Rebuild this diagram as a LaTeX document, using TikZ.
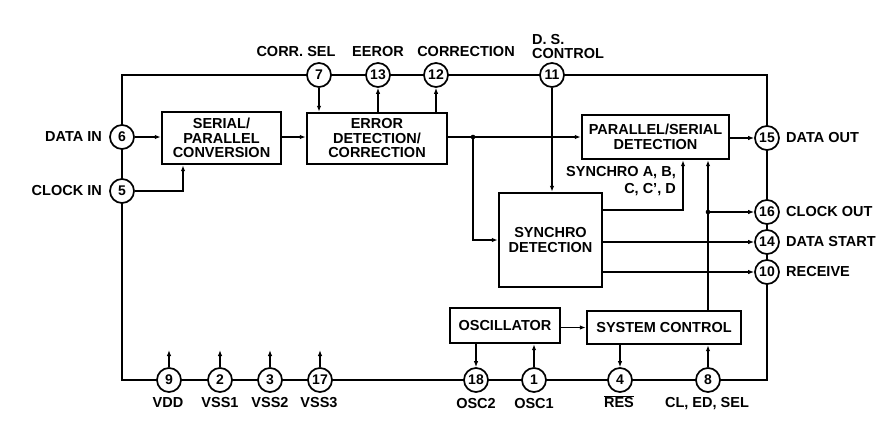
\documentclass[tikz,border=0pt]{standalone}
\usepackage{fontspec}
\setmainfont{Liberation Sans}
\usetikzlibrary{arrows.meta,calc}
\begin{document}
\begin{tikzpicture}[x=1pt,y=-1pt,
  every node/.style={font=\fontsize{14.5}{14.5}\selectfont\bfseries},
  frame/.style={line width=2.8pt,line join=miter},
  blk/.style={draw,line width=2.4pt,align=center,inner sep=0pt},
  pin/.style={draw,circle,fill=white,line width=1.7pt,minimum size=24pt,inner sep=0pt,font=\fontsize{14}{14}\selectfont\bfseries},
  arr/.style={line width=1.3pt,-{Latex[length=6pt,width=4.5pt]}},
  lbl/.style={inner sep=0pt}
]
\useasboundingbox (0,0) rectangle (889,426);
% frame corners
\coordinate (tl) at (122,75);
\coordinate (tr) at (767,75);
\coordinate (br) at (767,380);
\coordinate (bl) at (122,380);
\draw[frame] (tl) -- (tr) -- (br) -- (bl) -- cycle;
% blocks
\node[blk,minimum width=119pt,minimum height=52pt] (ser) at (221.5,138) {SERIAL/\\PARALLEL\\CONVERSION};
\node[blk,minimum width=140pt,minimum height=51pt] (err) at (377,138.5) {ERROR\\DETECTION/\\CORRECTION};
\node[blk,minimum width=147pt,minimum height=44pt] (ps) at (655.5,137) {PARALLEL/SERIAL\\DETECTION};
\node[blk,minimum width=103pt,minimum height=94pt] (sync) at (550.5,240) {SYNCHRO\\DETECTION};
\node[blk,minimum width=110pt,minimum height=35pt] (osc) at (505,325.5) {OSCILLATOR};
\node[blk,minimum width=154pt,minimum height=33pt] (sys) at (664,327.5) {SYSTEM CONTROL};
% pins
\node[pin] (p6) at (122,137) {6};
\node[pin] (p5) at (122,191) {5};
\node[pin] (p7) at (319,75) {7};
\node[pin] (p13) at (378,75) {13};
\node[pin] (p12) at (436,75) {12};
\node[pin] (p11) at (552,75) {11};
\node[pin] (p15) at (767,138) {15};
\node[pin] (p16) at (767,212) {16};
\node[pin] (p14) at (767,242) {14};
\node[pin] (p10) at (767,272) {10};
\node[pin] (p9) at (169,380) {9};
\node[pin] (p2) at (220,380) {2};
\node[pin] (p3) at (270,380) {3};
\node[pin] (p17) at (320,380) {17};
\node[pin] (p18) at (476,380) {18};
\node[pin] (p1) at (534,380) {1};
\node[pin] (p4) at (620,380) {4};
\node[pin] (p8) at (708,380) {8};
% labels
\node[lbl] at (296,52) {CORR. SEL};
\node[lbl] at (378,52) {EEROR};
\node[lbl] at (466,52) {CORRECTION};
\node[lbl,anchor=west] at (532,40) {D. S.};
\node[lbl,anchor=west] at (532,54) {CONTROL};
\node[lbl,anchor=east] at (102,137) {DATA IN};
\node[lbl,anchor=east] at (102,191) {CLOCK IN};
\node[lbl,anchor=west] at (786,138) {DATA OUT};
\node[lbl,anchor=west] at (786,212) {CLOCK OUT};
\node[lbl,anchor=west] at (786,242) {DATA START};
\node[lbl,anchor=west] at (786,272) {RECEIVE};
\node[lbl] at (168,403) {VDD};
\node[lbl] at (220,403) {VSS1};
\node[lbl] at (270,403) {VSS2};
\node[lbl] at (319,403) {VSS3};
\node[lbl] at (476,404) {OSC2};
\node[lbl] at (534,404) {OSC1};
\node[lbl] at (619,402) {$\overline{\mbox{RES}}$};
\node[lbl] at (707,404) {CL, ED, SEL};
\node[lbl,anchor=east] at (676,173) {SYNCHRO A, B,};
\node[lbl,anchor=east] at (676,190) {C, C', D};
% connectors
\draw[arr] (p6) -- (ser.west |- p6);
\coordinate (c5) at (183,191);
\draw[arr] (p5) -- (c5) -- (c5 |- ser.south);
\draw[arr] (ser.east |- p6) -- (err.west |- p6);
\draw[arr] (p7) -- (p7 |- err.north);
\draw[arr] (err.north -| p13) -- (p13);
\draw[arr] (err.north -| p12) -- (p12);
\coordinate (j1) at (473,137);
\draw[arr] (err.east |- j1) -- (ps.west |- j1);
\fill (j1) circle (2.3pt);
\draw[arr] (j1) |- (sync.west);
\draw[arr] (p11) -- (p11 |- sync.north);
\draw[arr] (ps.east |- p15) -- (p15);
\coordinate (s1) at (683,210);
\draw[arr] (sync.east |- s1) -- (s1) -- (s1 |- ps.south);
\draw[arr] (sync.east |- p14) -- (p14);
\draw[arr] (sync.east |- p10) -- (p10);
\draw[arr] (sys.north -| p8) -- (p8 |- ps.south);
\coordinate (j2) at (708,212);
\fill (j2) circle (2.3pt);
\draw[arr] (j2) -- (p16);
\draw[arr] (osc.east |- sys.west) -- (sys.west);
\draw[arr] (osc.south -| p18) -- (p18);
\draw[arr] (p1) -- (p1 |- osc.south);
\draw[arr] (sys.south -| p4) -- (p4);
\draw[arr] (p8) -- (p8 |- sys.south);
% supply arrows
\coordinate (v9) at (169,350);
\coordinate (v2) at (220,350);
\coordinate (v3) at (270,350);
\coordinate (v17) at (320,350);
\draw[arr] (p9) -- (v9);
\draw[arr] (p2) -- (v2);
\draw[arr] (p3) -- (v3);
\draw[arr] (p17) -- (v17);
\end{tikzpicture}
\end{document}
